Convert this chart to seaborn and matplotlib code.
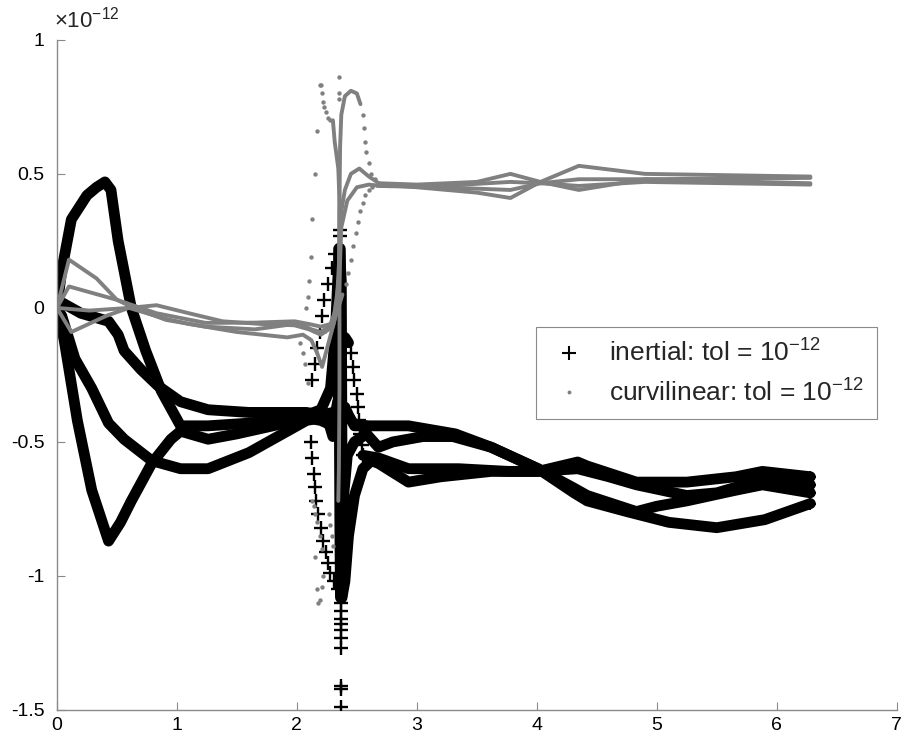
import numpy as np
import matplotlib
matplotlib.use("Agg")
import matplotlib.pyplot as plt
from matplotlib.lines import Line2D
import seaborn as sns

# ---------------- data (y in units of 1e-12) ----------------
# inertial components (black, dense '+' markers -> thick bands)
b1_x = [0, 0.04, 0.12, 0.25, 0.33, 0.40, 0.45, 0.51, 0.62, 0.74, 0.87, 1.03, 1.26, 1.6, 2.0, 2.08, 2.2, 2.28, 2.32, 2.34, 2.355, 2.37, 2.375, 2.38, 2.40, 2.43, 2.48, 2.55, 2.62]
b1_y = [0, 0.14, 0.33, 0.42, 0.45, 0.47, 0.44, 0.25, 0.0, -0.16, -0.31, -0.44, -0.44, -0.43, -0.41, -0.40, -0.38, -0.30, -0.10, 0.10, 0.22, 0.10, -0.50, -1.07, -1.02, -0.85, -0.70, -0.60, -0.57]

b2_x = [0, 0.06, 0.17, 0.29, 0.43, 0.53, 0.62, 0.79, 0.95, 1.03, 1.26, 1.5, 1.8, 2.08, 2.2, 2.3, 2.34, 2.36, 2.37, 2.37, 2.39, 2.42, 2.48, 2.58]
b2_y = [0, -0.12, -0.42, -0.68, -0.87, -0.80, -0.72, -0.58, -0.49, -0.46, -0.49, -0.47, -0.44, -0.41, -0.42, -0.44, -0.35, -0.50, -0.90, -1.08, -0.70, -0.55, -0.50, -0.47]

b3_x = [0, 0.04, 0.15, 0.29, 0.43, 0.56, 0.79, 1.03, 1.26, 1.6, 2.08, 2.2, 2.26, 2.30, 2.33, 2.35, 2.37, 2.40, 2.43]
b3_y = [0, -0.03, -0.19, -0.30, -0.43, -0.49, -0.57, -0.60, -0.60, -0.54, -0.42, -0.41, -0.42, -0.48, -0.45, -0.30, -0.15, -0.11, -0.13]

b4_x = [0, 0.04, 0.2, 0.43, 0.51, 0.56, 0.70, 0.84, 1.03, 1.26, 1.6, 2.08, 2.2, 2.3, 2.33, 2.36, 2.40, 2.43, 2.48, 2.58]
b4_y = [0, 0.02, -0.02, -0.05, -0.10, -0.16, -0.23, -0.29, -0.35, -0.38, -0.39, -0.39, -0.40, -0.39, -0.42, -0.38, -0.37, -0.40, -0.44, -0.44]

# vertical spike of the inertial run near x = 2.36
bs_x = [2.355, 2.36, 2.365, 2.37]
bs_y = [0.22, -0.30, -0.80, -1.08]

r1_x = [2.58, 2.93, 3.32, 3.62, 4.01, 4.31, 4.42, 4.75, 5.1, 5.5, 5.9, 6.28]
r1_y = [-0.44, -0.44, -0.47, -0.52, -0.60, -0.69, -0.72, -0.76, -0.80, -0.82, -0.79, -0.73]
r2_x = [2.58, 2.68, 2.8, 3.05, 3.3, 3.62, 4.01, 4.3, 4.42, 4.83, 5.0, 5.25, 5.66, 5.88, 6.28]
r2_y = [-0.47, -0.52, -0.50, -0.48, -0.48, -0.52, -0.60, -0.67, -0.70, -0.76, -0.74, -0.72, -0.68, -0.66, -0.69]
r3_x = [2.55, 2.68, 2.93, 3.35, 3.76, 4.01, 4.34, 4.42, 4.83, 5.25, 5.66, 5.88, 6.28]
r3_y = [-0.55, -0.56, -0.60, -0.60, -0.61, -0.61, -0.575, -0.59, -0.65, -0.65, -0.63, -0.61, -0.63]
r4_x = [2.62, 2.68, 2.93, 3.2, 3.62, 4.01, 4.34, 4.6, 4.83, 5.25, 5.5, 5.88, 6.28]
r4_y = [-0.57, -0.58, -0.65, -0.63, -0.61, -0.61, -0.60, -0.63, -0.66, -0.70, -0.69, -0.64, -0.66]

# sparse inertial markers (fast-moving parts)
tb_x = [2.13, 2.15, 2.17, 2.19, 2.21, 2.23, 2.26, 2.29, 2.32,
        2.12, 2.13, 2.14, 2.15, 2.16, 2.18, 2.20, 2.22, 2.24, 2.26, 2.28, 2.31, 2.34,
        2.37, 2.37, 2.37, 2.37, 2.37, 2.37, 2.37, 2.37, 2.37, 2.37,
        2.36, 2.36,
        2.45, 2.47, 2.48, 2.50, 2.51, 2.52, 2.53, 2.54, 2.55]
tb_y = [-0.27, -0.21, -0.15, -0.09, -0.03, 0.03, 0.09, 0.15, 0.20,
        -0.50, -0.56, -0.62, -0.67, -0.72, -0.77, -0.82, -0.87, -0.91, -0.95, -0.99, -1.02, -1.05,
        -1.10, -1.13, -1.16, -1.18, -1.20, -1.23, -1.27, -1.41, -1.42, -1.49,
        0.27, 0.29,
        -0.17, -0.22, -0.27, -0.32, -0.37, -0.42, -0.47, -0.51, -0.55]

# curvilinear components (grey, dense dots -> lines)
g1_x = [0, 0.1, 0.33, 0.5, 0.64, 0.91, 1.24, 1.65, 1.98, 2.05, 2.12, 2.2, 2.3, 2.35, 2.355, 2.36, 2.37, 2.40, 2.45, 2.50, 2.53]
g1_y = [0, 0.18, 0.11, 0.03, 0.0, -0.045, -0.07, -0.08, -0.06, -0.065, -0.08, -0.09, -0.06, 0.10, 0.40, 0.60, 0.72, 0.79, 0.81, 0.80, 0.76]
g1r_x = [2.69, 3.0, 3.5, 3.78, 4.03, 4.35, 4.9, 6.28]
g1r_y = [0.465, 0.46, 0.47, 0.50, 0.47, 0.53, 0.50, 0.49]

g2_x = [0, 0.1, 0.5, 0.83, 1.24, 1.65, 1.98, 2.1, 2.2, 2.28, 2.33, 2.355, 2.37, 2.40, 2.45, 2.52, 2.6, 2.7, 3.0, 3.5, 3.78, 4.03, 4.35, 4.9, 6.28]
g2_y = [0, 0.08, 0.03, -0.02, -0.056, -0.055, -0.05, -0.06, -0.07, -0.06, 0.0, 0.20, 0.36, 0.44, 0.50, 0.52, 0.49, 0.46, 0.45, 0.43, 0.41, 0.47, 0.44, 0.48, 0.485]

g3_x = [0, 0.27, 0.6, 0.83, 1.1, 1.38, 1.7, 1.98, 2.1, 2.2, 2.3, 2.35, 2.37, 2.42, 2.5, 2.6, 2.7, 3.2, 3.78, 4.03, 4.35, 4.9, 6.28]
g3_y = [0, -0.01, 0.0, 0.01, -0.02, -0.05, -0.06, -0.065, -0.08, -0.10, -0.07, 0.05, 0.30, 0.40, 0.45, 0.46, 0.455, 0.455, 0.47, 0.465, 0.48, 0.48, 0.465]

g4_x = [0, 0.12, 0.41, 0.6, 0.9, 1.1, 1.5, 1.92, 2.05, 2.12, 2.17, 2.21, 2.27, 2.33, 2.38]
g4_y = [0, -0.09, -0.03, 0.0, -0.04, -0.06, -0.09, -0.11, -0.10, -0.12, -0.17, -0.22, -0.12, -0.02, 0.05]
g4r_x = [2.67, 3.2, 3.78, 4.03, 4.35, 4.9, 6.28]
g4r_y = [0.455, 0.45, 0.44, 0.465, 0.455, 0.47, 0.46]

gv_x = [2.30, 2.315, 2.33, 2.345, 2.355, 2.355, 2.35, 2.345]
gv_y = [0.70, 0.62, 0.57, 0.52, 0.40, -0.30, -0.60, -0.72]

# sparse curvilinear dots
tg_x = [2.55, 2.56, 2.57, 2.58, 2.60, 2.62, 2.65,
        2.41, 2.43, 2.45, 2.47, 2.49, 2.51, 2.53, 2.55, 2.57, 2.60, 2.63,
        2.19, 2.20, 2.21, 2.22, 2.23, 2.24, 2.26, 2.28,
        2.17, 2.15, 2.13, 2.12, 2.105, 2.09, 2.08,
        2.03, 2.05, 2.07, 2.09,
        2.13, 2.14, 2.15, 2.17, 2.19, 2.21, 2.27, 2.28, 2.29, 2.30,
        2.15, 2.22, 2.17, 2.21, 2.19, 2.18,
        2.355, 2.355, 2.355]
tg_y = [0.72, 0.67, 0.62, 0.58, 0.54, 0.50, 0.48,
        0.09, 0.13, 0.18, 0.23, 0.28, 0.32, 0.36, 0.39, 0.42, 0.44, 0.45,
        0.83, 0.83, 0.80, 0.77, 0.75, 0.73, 0.71, 0.70,
        0.66, 0.50, 0.33, 0.19, 0.10, 0.04, 0.0,
        -0.13, -0.17, -0.21, -0.28,
        -0.72, -0.74, -0.77, -0.80, -0.85, -0.90, -0.77, -0.81, -0.85, -0.89,
        -0.93, -1.00, -1.05, -1.04, -1.09, -1.10,
        0.86, 0.80, 0.78]

x_ticks = [0, 1, 2, 3, 4, 5, 6, 7]
y_ticks = [-1.5, -1, -0.5, 0, 0.5, 1]
y_tick_labels = ["-1.5", "-1", "-0.5", "0", "0.5", "1"]
legend_labels = [r"inertial: tol = $\mathregular{10^{-12}}$",
                 r"curvilinear: tol = $\mathregular{10^{-12}}$"]

# ---------------- style ----------------
sns.set_theme(style="white")
plt.rcParams["font.family"] = ["Liberation Sans", "DejaVu Sans"]
plt.rcParams["axes.unicode_minus"] = False
plt.rcParams["mathtext.fontset"] = "custom"
plt.rcParams["mathtext.rm"] = "Liberation Sans"

BLACK = "#000000"
GREY = "#808080"
AXC = "#8a8a8a"

fig = plt.figure(figsize=(9.04, 7.38), dpi=100)
ax = fig.add_axes([0.063, 0.038, 0.929, 0.908])

def band(x, y, color, lw, z):
    sns.lineplot(x=x, y=y, sort=False, estimator=None, ax=ax, color=color,
                 linewidth=lw, legend=False, zorder=z,
                 solid_joinstyle="round", solid_capstyle="round")

for bx, by in [(b1_x, b1_y), (b2_x, b2_y), (b3_x, b3_y), (b4_x, b4_y),
               (r1_x, r1_y), (r2_x, r2_y), (r3_x, r3_y), (r4_x, r4_y)]:
    band(bx, by, BLACK, 7.8, 2)
band(bs_x, bs_y, BLACK, 9.0, 2)

sns.scatterplot(x=tb_x, y=tb_y, marker="+", color=BLACK, s=100, linewidth=1.7,
                ax=ax, zorder=3, legend=False)
# end markers on the right
sns.scatterplot(x=[r1_x[-1], r2_x[-1], r3_x[-1], r4_x[-1]],
                y=[r1_y[-1], r2_y[-1], r3_y[-1], r4_y[-1]],
                marker="+", color=BLACK, s=80, linewidth=1.5, ax=ax, zorder=3, legend=False)

for gx, gy in [(g1_x, g1_y), (g1r_x, g1r_y), (g2_x, g2_y), (g3_x, g3_y),
               (g4_x, g4_y), (g4r_x, g4r_y), (gv_x, gv_y)]:
    band(gx, gy, GREY, 2.8, 4)

sns.scatterplot(x=tg_x, y=tg_y, marker="o", color=GREY, s=10, linewidth=0,
                ax=ax, zorder=4, legend=False)

# ---------------- axes ----------------
ax.set_xlim(0, 7)
ax.set_ylim(-1.5, 1)
ax.set_xticks(x_ticks)
ax.set_xticklabels([str(t) for t in x_ticks])
ax.set_yticks(y_ticks)
ax.set_yticklabels(y_tick_labels)
for s in ["top", "right"]:
    ax.spines[s].set_visible(False)
for s in ["left", "bottom"]:
    ax.spines[s].set_color(AXC)
    ax.spines[s].set_linewidth(1.0)
ax.tick_params(direction="in", length=6, width=0.8, color=AXC,
               labelsize=14, labelcolor="black",
               left=True, bottom=True)
ax.tick_params(axis="y", pad=9)
ax.tick_params(axis="x", pad=5)
ax.set_xlabel("")
ax.set_ylabel("")

fig.text(0.060, 0.973, r"$\mathregular{\times 10^{-12}}$", fontsize=16,
         ha="left", va="center")

handles = [Line2D([], [], ls="none", marker="+", color=BLACK, markersize=10, mew=1.5),
           Line2D([], [], ls="none", marker="o", color=GREY, markersize=2.8, mew=0)]
leg = ax.legend(handles, legend_labels, loc="upper left",
                bbox_to_anchor=(0.571, 0.572), fontsize=19, frameon=True,
                fancybox=False, edgecolor=AXC, framealpha=1,
                handlelength=1.5, handletextpad=0.75, borderpad=0.5,
                labelspacing=0.45, borderaxespad=0)
leg.get_frame().set_linewidth(0.8)

fig.savefig("out.png", dpi=100)
